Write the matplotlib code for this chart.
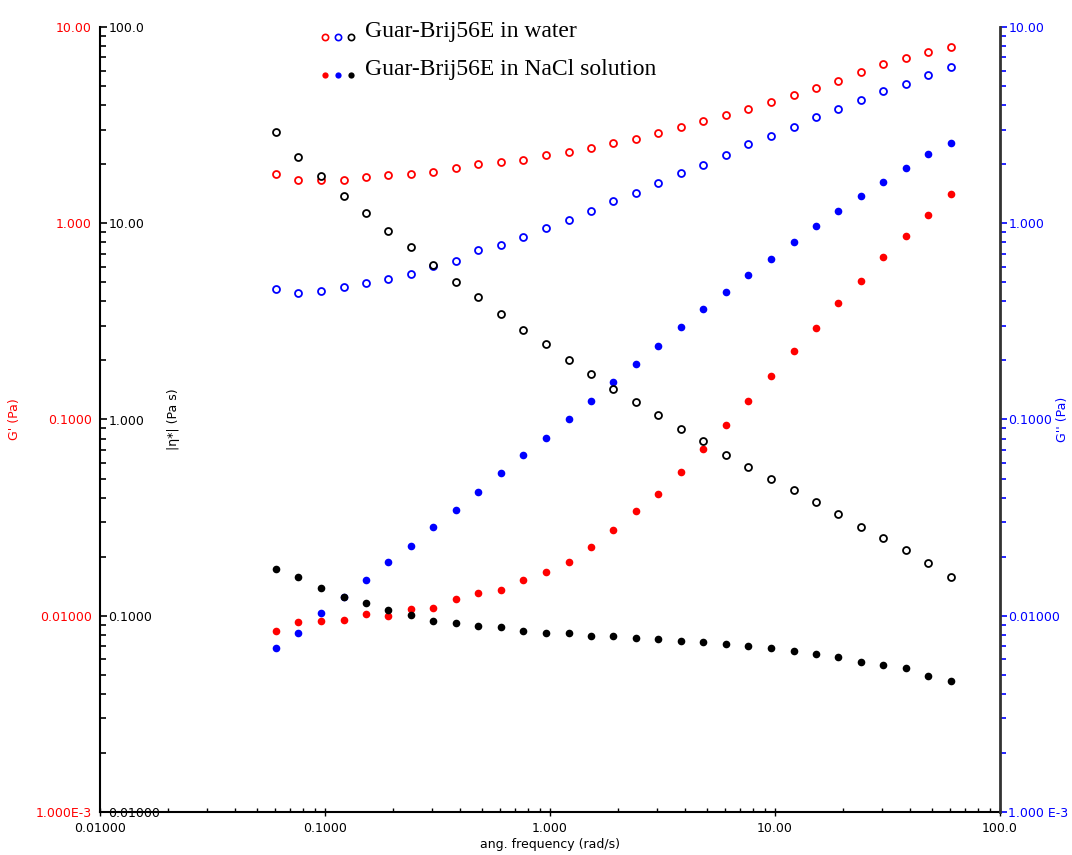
import matplotlib
matplotlib.use("Agg")
import matplotlib.pyplot as plt
from matplotlib.lines import Line2D
from matplotlib.ticker import FixedLocator, FixedFormatter, LogLocator, NullFormatter

# angular frequency (rad/s)
omega = [0.0605, 0.0762, 0.0959, 0.121, 0.152, 0.191, 0.241, 0.303, 0.382, 0.481,
         0.605, 0.762, 0.959, 1.21, 1.52, 1.91, 2.41, 3.03, 3.82, 4.81,
         6.05, 7.62, 9.59, 12.1, 15.2, 19.1, 24.1, 30.3, 38.2, 48.1, 60.5]

# Guar-Brij56E in water
gp_water = [1.78, 1.66, 1.66, 1.66, 1.72, 1.76, 1.78, 1.82, 1.91, 2.00, 2.05, 2.10, 2.23, 2.31,
            2.42, 2.56, 2.69, 2.88, 3.09, 3.32, 3.56, 3.82, 4.15, 4.50, 4.89, 5.31, 5.90, 6.48,
            6.95, 7.46, 7.91]
gpp_water = [0.462, 0.441, 0.452, 0.473, 0.496, 0.520, 0.551, 0.606, 0.642, 0.731, 0.775, 0.851,
             0.946, 1.039, 1.154, 1.298, 1.426, 1.604, 1.803, 1.981, 2.23, 2.53, 2.78, 3.09,
             3.48, 3.82, 4.25, 4.72, 5.12, 5.69, 6.25]
eta_water = [29.2, 21.8, 17.4, 13.8, 11.3, 9.13, 7.57, 6.13, 5.02, 4.21, 3.45, 2.86, 2.42, 2.01,
             1.70, 1.43, 1.23, 1.05, 0.895, 0.777, 0.659, 0.573, 0.497, 0.437, 0.380, 0.330,
             0.283, 0.249, 0.216, 0.186, 0.158]

# Guar-Brij56E in NaCl solution
gp_nacl = [0.00836, 0.00929, 0.00940, 0.00951, 0.0102, 0.00997, 0.0108, 0.0110, 0.0122, 0.0131,
           0.0135, 0.0152, 0.0167, 0.0188, 0.0224, 0.0273, 0.0342, 0.0417, 0.0540, 0.0708,
           0.0938, 0.124, 0.167, 0.223, 0.292, 0.392, 0.508, 0.673, 0.861, 1.10, 1.41]
gpp_nacl = [0.00685, 0.00817, 0.0103, 0.0125, 0.0152, 0.0188, 0.0227, 0.0283, 0.0346, 0.0427,
            0.0534, 0.0659, 0.0805, 0.101, 0.124, 0.155, 0.192, 0.237, 0.296, 0.366, 0.446,
            0.545, 0.657, 0.803, 0.968, 1.154, 1.377, 1.623, 1.91, 2.25, 2.56]
eta_nacl = [0.173, 0.158, 0.138, 0.125, 0.116, 0.107, 0.101, 0.0940, 0.0918, 0.0886, 0.0876,
            0.0836, 0.0817, 0.0817, 0.0788, 0.0788, 0.0770, 0.0761, 0.0744, 0.0735, 0.0718,
            0.0701, 0.0685, 0.0661, 0.0638, 0.0616, 0.0581, 0.0561, 0.0542, 0.0493, 0.0465]

x_ticks = [0.01, 0.1, 1, 10, 100]
x_labels = ["0.01000", "0.1000", "1.000", "10.00", "100.0"]
g_ticks = [0.001, 0.01, 0.1, 1, 10]
gp_labels = ["1.000E-3", "0.01000", "0.1000", "1.000", "10.00"]
gpp_labels = ["1.000 E-3", "0.01000", "0.1000", "1.000", "10.00"]
eta_ticks = [0.01, 0.1, 1, 10, 100]
eta_labels = ["0.01000", "0.1000", "1.000", "10.00", "100.0"]

legend_labels = ["Guar-Brij56E in water", "Guar-Brij56E in NaCl solution"]

RED = "#ff0000"
BLUE = "#0000ff"
BLACK = "#000000"

W, H = 1072, 855
fig = plt.figure(figsize=(W / 100, H / 100), dpi=100)
rect = [100 / W, (H - 812) / H, 900 / W, 785 / H]

ax = fig.add_axes(rect)          # G' (red, left)
ax_g2 = ax.twinx()               # G'' (blue, right)
ax_eta = ax.twinx()              # |eta*| (black, labels inside left)

TS = 9

for a in (ax, ax_g2, ax_eta):
    a.set_xscale("log")
    a.set_yscale("log")
    a.set_xlim(0.01, 100)
    a.patch.set_visible(False)
    a.spines["top"].set_visible(False)

ax.set_ylim(1e-3, 10)
ax_g2.set_ylim(1e-3, 10)
ax_eta.set_ylim(0.01, 100)

# x axis
ax.xaxis.set_major_locator(FixedLocator(x_ticks))
ax.xaxis.set_major_formatter(FixedFormatter(x_labels))
ax.xaxis.set_minor_locator(LogLocator(base=10, subs=range(2, 10)))
ax.xaxis.set_minor_formatter(NullFormatter())
ax.tick_params(axis="x", which="major", direction="inout", length=6, width=1, pad=4,
               labelsize=TS, colors=BLACK)
ax.tick_params(axis="x", which="minor", direction="in", length=3, width=1)
ax.set_xlabel("ang. frequency (rad/s)", fontsize=TS, labelpad=2)
for a in (ax_g2, ax_eta):
    a.xaxis.set_visible(False)

# left red G' axis
ax.yaxis.set_major_locator(FixedLocator(g_ticks))
ax.yaxis.set_major_formatter(FixedFormatter(gp_labels))
ax.yaxis.set_minor_locator(LogLocator(base=10, subs=range(2, 10)))
ax.yaxis.set_minor_formatter(NullFormatter())
ax.tick_params(axis="y", which="major", direction="out", length=0, pad=6,
               labelcolor=RED, labelsize=TS)
ax.tick_params(axis="y", which="minor", length=0)
ax.spines["right"].set_visible(False)
ax.spines["left"].set_color(BLACK)
ax.spines["left"].set_linewidth(1.5)
ax.spines["bottom"].set_linewidth(1.5)
ax.set_ylabel("G' (Pa)", color=RED, fontsize=TS)
ax.yaxis.set_label_coords(-0.088, 0.5)

# black |eta*| axis with labels inside the left spine
ax_eta.spines["right"].set_position(("axes", 0))
ax_eta.spines["right"].set_visible(False)
ax_eta.spines["left"].set_visible(False)
ax_eta.spines["bottom"].set_visible(False)
ax_eta.yaxis.set_major_locator(FixedLocator(eta_ticks))
ax_eta.yaxis.set_major_formatter(FixedFormatter(eta_labels))
ax_eta.yaxis.set_minor_locator(LogLocator(base=10, subs=range(2, 10)))
ax_eta.yaxis.set_minor_formatter(NullFormatter())
ax_eta.tick_params(axis="y", which="major", direction="out", length=5, width=1.2,
                   pad=1, labelsize=TS, colors=BLACK)
ax_eta.tick_params(axis="y", which="minor", direction="out", length=4, width=1.2,
                   colors=BLACK)
ax_eta.set_ylabel("|η*| (Pa s)", color=BLACK, fontsize=TS)
ax_eta.yaxis.set_label_position("right")
ax_eta.yaxis.set_label_coords(0.074, 0.5)

# blue G'' axis on the right
ax_g2.spines["left"].set_visible(False)
ax_g2.spines["bottom"].set_visible(False)
ax_g2.spines["right"].set_color("#333333")
ax_g2.spines["right"].set_linewidth(2)
ax_g2.yaxis.set_major_locator(FixedLocator(g_ticks))
ax_g2.yaxis.set_major_formatter(FixedFormatter(gpp_labels))
ax_g2.yaxis.set_minor_locator(LogLocator(base=10, subs=range(2, 10)))
ax_g2.yaxis.set_minor_formatter(NullFormatter())
ax_g2.tick_params(axis="y", which="major", direction="out", length=5, width=1.2, pad=1,
                  labelsize=TS, colors=BLUE)
ax_g2.tick_params(axis="y", which="minor", direction="out", length=4, width=1.2,
                  colors=BLUE)
ax_g2.set_ylabel("G'' (Pa)", color=BLUE, fontsize=TS)
ax_g2.yaxis.set_label_coords(1.062, 0.5)

ms_open = 5
ms_fill = 5.5
open_kw = dict(linestyle="none", marker="o", markersize=ms_open, markerfacecolor="white",
               markeredgewidth=1.3)
fill_kw = dict(linestyle="none", marker="o", markersize=ms_fill, markeredgewidth=0)

ax.plot(omega, gp_water, color=RED, zorder=3, **open_kw)
ax.plot(omega, gp_nacl, color=RED, zorder=3, **fill_kw)
ax_g2.plot(omega, gpp_water, color=BLUE, zorder=3, **open_kw)
ax_g2.plot(omega, gpp_nacl, color=BLUE, zorder=3, **fill_kw)
ax_eta.plot(omega, eta_water, color=BLACK, zorder=4, **open_kw)
ax_eta.plot(omega, eta_nacl, color=BLACK, zorder=4, **fill_kw)

# legend drawn in figure pixels
legend_rows = [(37, True), (75, False)]
colors = [RED, BLUE, BLACK]
xs = [325, 338, 351]
for (yy, is_open), label in zip(legend_rows, legend_labels):
    for xx, c in zip(xs, colors):
        kw = dict(marker="o", linestyle="none", color=c, markersize=4.5,
                  transform=fig.transFigure)
        if is_open:
            kw.update(markerfacecolor="white", markeredgewidth=1.2)
        else:
            kw.update(markeredgewidth=0)
        fig.add_artist(Line2D([xx / W], [1 - yy / H], **kw))
    fig.text(365 / W, 1 - (yy - 6) / H, label, family="Liberation Serif", fontsize=17,
             va="center", ha="left", color=BLACK)

fig.savefig("out.png", dpi=100)
